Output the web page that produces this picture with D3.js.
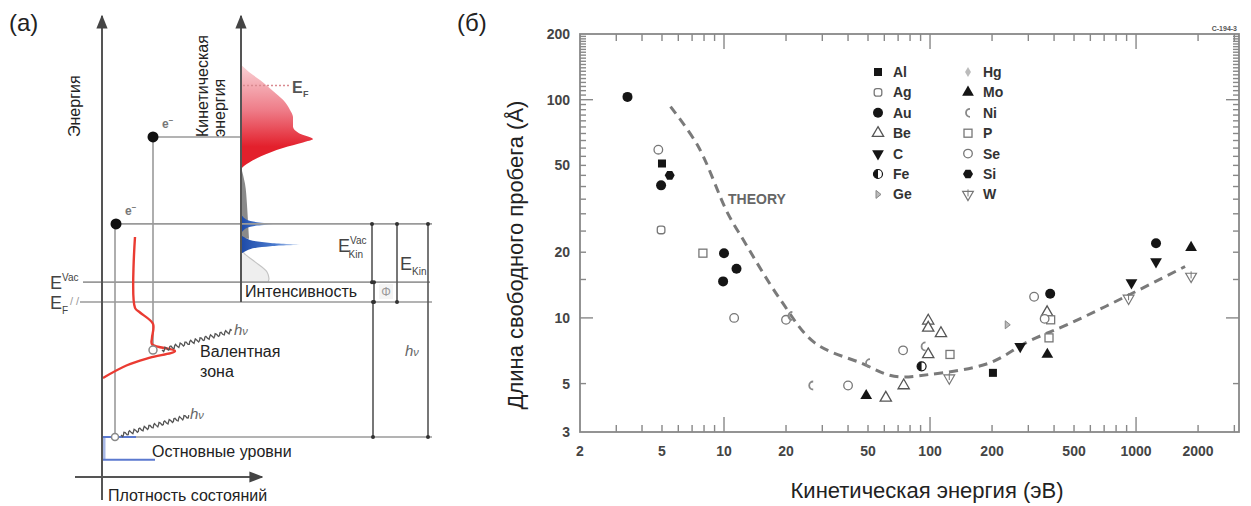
<!DOCTYPE html>
<html>
<head>
<meta charset="utf-8">
<script src="https://cdn.jsdelivr.net/npm/d3@7"></script>
<style>
  body { margin: 0; background: #fff; }
  text { font-family: Arial, "Liberation Sans", sans-serif; }
</style>
</head>
<body>
<svg id="fig" width="1251" height="506"></svg>
<script>
// ---------- panel (б): mean free path vs kinetic energy ----------
const xTickVals = [2, 5, 10, 20, 50, 100, 200, 500, 1000, 2000];
const yTickVals = [3, 5, 10, 20, 50, 100, 200];
const legendLeft = ["Al", "Ag", "Au", "Be", "C", "Fe", "Ge"];
const legendRight = ["Hg", "Mo", "Ni", "P", "Se", "Si", "W"];

// measured points: element, energy (eV), mean free path (Å)
const ptElem = ["Au","Se","Al","Si","Au","Ag","P","Au","Au","Au","Se","Se","Ni","Ni","Se","Mo","Ni",
  "Be","Be","Se","Fe","Be","Be","Be","Ni","Be","P","W","Al","Ge","C","Se","Au","Be","P","Se","P","Mo",
  "C","W","Au","C","Mo","W"];
const ptEnergy = [3.4,4.8,5.0,5.45,4.95,4.95,7.9,10,11.5,9.9,11.2,20,21,26.5,40,49,50,
  61,74.5,74,91,98,98,113,93,98,125,124,202,237,274,320,383,370,385,360,378,371,
  950,920,1250,1250,1850,1850];
const ptPath = [103,59,51,45,40.5,25.3,19.8,19.8,16.8,14.7,10,9.8,10.2,4.9,4.9,4.4,6.2,
  4.3,4.9,7.1,6.0,9.7,9.0,8.5,7.4,6.8,6.8,5.3,5.6,9.3,7.4,12.5,12.9,10.6,9.8,9.9,8.1,6.8,
  14.5,12.3,22,18.1,21,15.5];

// "THEORY" universal curve
const theoryEnergy = [5.5, 7.5, 10.4, 12.4, 18.8, 27.5, 46.5, 67, 98.6, 193, 300, 474, 932, 1730];
const theoryPath = [93, 61, 30.3, 22.8, 12.1, 7.7, 6.2, 5.4, 5.5, 6.2, 7.8, 9.4, 12.8, 17.2];

// ---------- panel (a): photoemission scheme (energies in arbitrary units) ----------
const levelCore = [0, -5.4];
const levelEF = 32, levelVac = 36.7, photonE = 50.5;
const levelValence = 20.6;
// valence-band density of states (energy, intensity)
const vbEnergy = [47.4, 30.6, 29.5, 26.8, 23.5, 22.0, 20.4, 18.8, 17.0, 14.0];
const vbDos    = [33,   33,   38,   51,   50,   50,   73,   48,   25,   1];
// kinetic-energy spectrum, valence part
const specEnergy = [88.2, 86.5, 84.6, 82, 79.9, 77.5, 75.8, 73.5, 72, 70.6, 69.8, 68.5, 66.5, 64.2, 63.5];
const specInt    = [0,    8,    19,   32, 42,   49,   52,   52,   58, 72,   62,   42,   20,   3,    0];
// secondary-electron background
const tailEnergy = [64, 60, 55, 51, 47];
const tailInt    = [0, 4, 6, 7, 8];
const bumpEnergy = [45, 43.6, 41.5, 39.1, 37.5, 36.7];
const bumpInt    = [0, 3, 14, 26, 28, 27];
// core-level peaks
const peakEnergy = [50.5, 45.6];
const peakHeight = [32, 59];

const svg = d3.select("#fig");
const ink = "#222";

// ================= PANEL (a) =================
const ga = svg.append("g");
const yE = d3.scaleLinear().domain([0, 100]).range([437, 15]);
const axE = 102, axK = 241;

const defs = svg.append("defs");
const redGrad = defs.append("linearGradient").attr("id", "redg")
  .attr("gradientUnits", "userSpaceOnUse").attr("x1", 0).attr("y1", yE(88)).attr("x2", 0).attr("y2", yE(64));
redGrad.append("stop").attr("offset", 0).attr("stop-color", "#f9d0d4");
redGrad.append("stop").attr("offset", 0.45).attr("stop-color", "#ee7a86");
redGrad.append("stop").attr("offset", 0.8).attr("stop-color", "#e3202c");
redGrad.append("stop").attr("offset", 1).attr("stop-color", "#e3202c");
const blueGrad = defs.append("linearGradient").attr("id", "blueg")
  .attr("x1", 0).attr("y1", 0).attr("x2", 1).attr("y2", 0);
blueGrad.append("stop").attr("offset", 0).attr("stop-color", "#1d4aa8");
blueGrad.append("stop").attr("offset", 0.6).attr("stop-color", "#4d7dd0");
blueGrad.append("stop").attr("offset", 1).attr("stop-color", "#e4ecf8");
defs.append("marker").attr("id", "arr").attr("viewBox", "0 0 10 10").attr("refX", 9).attr("refY", 5)
  .attr("markerWidth", 7).attr("markerHeight", 7).attr("orient", "auto-start-reverse")
  .append("path").attr("d", "M0,1 L10,5 L0,9 z").attr("fill", "#444");

function hline(y, x1, x2, col, w) {
  return ga.append("line").attr("x1", x1).attr("x2", x2).attr("y1", y).attr("y2", y)
    .attr("stroke", col || "#9a9a9a").attr("stroke-width", w || 1.6);
}
function vline(x, y1, y2, col, w) {
  return ga.append("line").attr("x1", x).attr("x2", x).attr("y1", y1).attr("y2", y2)
    .attr("stroke", col || "#9a9a9a").attr("stroke-width", w || 1.6);
}

// spectrum on the kinetic-energy axis
const specArea = d3.area().curve(d3.curveMonotoneY)
  .y(d => yE(d[0])).x0(axK).x1(d => axK + d[1]);
ga.append("path").datum(d3.zip(bumpEnergy, bumpInt)).attr("d", specArea)
  .attr("fill", "#eeeeee").attr("stroke", "#c4c4c4").attr("stroke-width", 1.2);
ga.append("path").datum(d3.zip(tailEnergy, tailInt)).attr("d", specArea)
  .attr("fill", "#8a8a8a");
peakEnergy.forEach((c, i) => {
  const h = peakHeight[i];
  const pts = [[c + 2.2, 0], [c + 1.1, h * 0.15], [c + 0.4, h * 0.5], [c, h], [c - 0.4, h * 0.5], [c - 1.1, h * 0.15], [c - 2.2, 0]];
  ga.append("path").datum(pts).attr("d", d3.area().curve(d3.curveCatmullRom)
    .y(d => yE(d[0])).x0(axK).x1(d => axK + d[1])).attr("fill", "url(#blueg)");
});
ga.append("path").datum(d3.zip(specEnergy, specInt)).attr("d", specArea).attr("fill", "url(#redg)");
// E_F dotted marker on spectrum
hline(yE(levelEF + photonE + 0.8), axK + 2, axK + 50, "#d98a90", 1.5).attr("stroke-dasharray", "2,2");
ga.append("text").attr("x", 292).attr("y", 93).attr("font-size", 16).attr("font-weight", "bold")
  .attr("fill", "#555").text("E");
ga.append("text").attr("x", 303).attr("y", 97).attr("font-size", 9).attr("font-weight", "bold")
  .attr("fill", "#555").text("F");

// level lines
const yCore = yE(levelCore[0]), yCore2 = yE(levelCore[1]);
const yEF = yE(levelEF), yVac = yE(levelVac), yPh = yE(photonE), yPh2 = yE(levelValence + photonE);
hline(yPh2, 152, axK);
hline(yPh, 115, 432);
hline(yVac, 83, 430);
hline(yEF, 80, 432);
hline(yCore, axE, 432);
vline(115, yPh, yCore);
vline(153, yPh2, yE(levelValence));

// measurement verticals with end dots
function dim(x, y1, y2) {
  vline(x, y1, y2, "#555", 1.6);
  [y1, y2].forEach(y => ga.append("circle").attr("cx", x).attr("cy", y).attr("r", 2).attr("fill", "#333"));
}
dim(372, yPh, yVac);
dim(374, yVac, yEF);
dim(373, yEF, yCore);
dim(397, yPh, yEF);
dim(428, yPh, yCore);

// blue core levels
vline(axE + 2, yCore, yCore2, "#a9b9e6", 3);
hline(yCore, axE, 136, "#5b79cf", 2);
hline(yCore2, axE, 155, "#5b79cf", 2);

// valence DOS (red)
ga.append("path").datum(d3.zip(vbEnergy, vbDos))
  .attr("d", d3.line().curve(d3.curveCatmullRom).y(d => yE(d[0])).x(d => axE + d[1]))
  .attr("fill", "none").attr("stroke", "#ea3b32").attr("stroke-width", 2.4);

// axes with arrows
vline(axE, 500, 16, "#555", 2).attr("marker-end", "url(#arr)");
vline(axK, yEF, 16, "#555", 2).attr("marker-end", "url(#arr)");
ga.append("line").attr("x1", 75).attr("x2", 262).attr("y1", 477).attr("y2", 477)
  .attr("stroke", "#555").attr("stroke-width", 2).attr("marker-end", "url(#arr)");

// photons (wavy)
function wave(x1, y1, x2, y2) {
  const n = 60, len = Math.hypot(x2 - x1, y2 - y1);
  const ux = (x2 - x1) / len, uy = (y2 - y1) / len;
  const pts = d3.range(n + 1).map(k => {
    const t = k / n, a = 2 * Math.sin(t * len / 2.6 * Math.PI);
    return [x1 + ux * t * len - uy * a, y1 + uy * t * len + ux * a];
  });
  ga.append("path").datum(pts).attr("d", d3.line()).attr("fill", "none")
    .attr("stroke", "#555").attr("stroke-width", 1.3);
}
wave(162, 350, 232, 331);
wave(121, 435, 189, 416);
function hnu(x, y) {
  const t = ga.append("text").attr("x", x).attr("y", y).attr("font-size", 15)
    .attr("font-style", "italic").attr("fill", "#666");
  t.append("tspan").text("h");
  t.append("tspan").attr("font-size", 11).text("ν");
}
hnu(234, 335); hnu(190, 419); hnu(405, 356);

// holes and electrons
ga.append("circle").attr("cx", 153).attr("cy", yE(levelValence)).attr("r", 4)
  .attr("fill", "#fff").attr("stroke", "#888").attr("stroke-width", 1.5);
ga.append("circle").attr("cx", 115).attr("cy", yCore).attr("r", 3.5)
  .attr("fill", "#fff").attr("stroke", "#888").attr("stroke-width", 1.5);
[[153, yPh2], [116, yPh]].forEach(p => {
  ga.append("circle").attr("cx", p[0]).attr("cy", p[1]).attr("r", 5.5).attr("fill", "#111");
  const t = ga.append("text").attr("x", p[0] + 9).attr("y", p[1] - 9).attr("font-size", 12)
    .attr("fill", "#777").attr("font-weight", "bold");
  t.append("tspan").text("e");
  t.append("tspan").attr("dy", -5).attr("font-size", 8).text("−");
});

// labels for energies
function eLabel(x, y, sup, sub, size) {
  const t = ga.append("text").attr("x", x).attr("y", y).attr("font-size", size || 16).attr("fill", "#444");
  t.append("tspan").text("E");
  if (sup) t.append("tspan").attr("font-size", 10).attr("dy", -8).text(sup);
  if (sub) t.append("tspan").attr("font-size", 10).attr("dx", sup ? -18 : 0).attr("dy", sup ? 14 : 5).text(sub);
}
eLabel(50, 289, "Vac", null, 18);
eLabel(50, 309, null, "F", 18);
ga.append("text").attr("x", 70).attr("y", 305).attr("font-size", 11).attr("fill", "#999").text("/ /");
eLabel(338, 252, "Vac", "Kin", 18);
eLabel(400, 270, null, "Kin", 18);
ga.append("rect").attr("x", 379).attr("y", 284).attr("width", 14).attr("height", 15).attr("fill", "#f4f4f4");
ga.append("text").attr("x", 386).attr("y", 296).attr("text-anchor", "middle").attr("font-size", 12)
  .attr("fill", "#999").text("Φ");

// text labels
ga.append("rect").attr("x", 243).attr("y", 283).attr("width", 123).attr("height", 18).attr("fill", "#fff");
const lab = (x, y, s, anchor) => ga.append("text").attr("x", x).attr("y", y).attr("font-size", 16)
  .attr("fill", ink).attr("text-anchor", anchor || "start").text(s);
lab(245, 297, "Интенсивность");
lab(200, 357, "Валентная");
lab(200, 377, "зона");
lab(152, 457, "Остновные уровни");
lab(108, 501, "Плотность состояний");
ga.append("text").attr("transform", "translate(80,137) rotate(-90)").attr("font-size", 16)
  .attr("fill", ink).text("Энергия");
ga.append("text").attr("transform", "translate(208,137) rotate(-90)").attr("font-size", 16)
  .attr("fill", ink).text("Кинетическая");
ga.append("text").attr("transform", "translate(225,137) rotate(-90)").attr("font-size", 16)
  .attr("fill", ink).text("энергия");
svg.append("text").attr("x", 9).attr("y", 31).attr("font-size", 24).attr("fill", ink).text("(a)");

// ================= PANEL (б) =================
const gb = svg.append("g");
const x = d3.scaleLog().domain([2, 3160]).range([580, 1239]);
const y = d3.scaleLog().domain([3, 200]).range([432, 34]);
const [xl, xr] = x.range(), [yb, yt] = y.range();

// minor / major ticks
const isDecade = v => Math.abs(Math.log10(v) - Math.round(Math.log10(v))) < 1e-9;
const xAll = x.ticks(40).filter(v => v > 2 && v < 3160);
const yAll = y.ticks(40).filter(v => v > 3 && v < 200);
const tickG = gb.append("g").attr("stroke", "#888").attr("stroke-width", 1.4);
xAll.forEach(v => {
  const L = isDecade(v) ? 15 : 7;
  tickG.append("line").attr("x1", x(v)).attr("x2", x(v)).attr("y1", yb).attr("y2", yb - L);
  tickG.append("line").attr("x1", x(v)).attr("x2", x(v)).attr("y1", yt).attr("y2", yt + L);
});
yAll.forEach(v => {
  const L = isDecade(v) ? 13 : 6;
  tickG.append("line").attr("y1", y(v)).attr("y2", y(v)).attr("x1", xl).attr("x2", xl + L);
  tickG.append("line").attr("y1", y(v)).attr("y2", y(v)).attr("x1", xr).attr("x2", xr - L);
});
gb.append("rect").attr("x", xl).attr("y", yt).attr("width", xr - xl).attr("height", yb - yt)
  .attr("fill", "none").attr("stroke", "#888").attr("stroke-width", 1.8);

// tick labels
gb.selectAll(".xl").data(xTickVals).join("text").attr("class", "xl")
  .attr("x", d => x(d)).attr("y", 456).attr("text-anchor", "middle")
  .attr("font-size", 14).attr("font-weight", "bold").attr("fill", "#444").text(d => d);
gb.selectAll(".yl").data(yTickVals).join("text").attr("class", "yl")
  .attr("x", 570).attr("y", d => y(d) + 5).attr("text-anchor", "end")
  .attr("font-size", 14).attr("font-weight", "bold").attr("fill", "#444").text(d => d);

// axis titles
gb.append("text").attr("x", 927).attr("y", 498).attr("text-anchor", "middle")
  .attr("font-size", 22).attr("fill", ink).text("Кинетическая энергия (эВ)");
gb.append("text").attr("transform", "translate(523,255) rotate(-90)").attr("text-anchor", "middle")
  .attr("font-size", 22).attr("fill", ink).text("Длина свободного пробега (Å)");
svg.append("text").attr("x", 457).attr("y", 31).attr("font-size", 24).attr("fill", ink).text("(б)");
gb.append("text").attr("x", 1237).attr("y", 31).attr("text-anchor", "end").attr("font-size", 7)
  .attr("font-weight", "bold").attr("fill", "#555").text("C-194-3");

// theory curve
gb.append("path").datum(d3.zip(theoryEnergy, theoryPath))
  .attr("d", d3.line().curve(d3.curveCatmullRom).x(d => x(d[0])).y(d => y(d[1])))
  .attr("fill", "none").attr("stroke", "#7a7a7a").attr("stroke-width", 3)
  .attr("stroke-dasharray", "9,6");
gb.append("text").attr("x", 728).attr("y", 204).attr("font-size", 14).attr("font-weight", "bold")
  .attr("fill", "#666").text("THEORY");

// markers
const sym = (type, s) => d3.symbol().type(type).size(s)();
function marker(g, el, cx, cy) {
  const m = g.append("g").attr("transform", `translate(${cx},${cy})`);
  const dark = "#151515", grey = "#777";
  switch (el) {
    case "Al": m.append("rect").attr("x", -4).attr("y", -4).attr("width", 8).attr("height", 8).attr("fill", dark); break;
    case "Ag": m.append("rect").attr("x", -3.8).attr("y", -3.8).attr("width", 7.6).attr("height", 7.6).attr("rx", 2.5)
      .attr("fill", "#fff").attr("stroke", grey).attr("stroke-width", 1.3); break;
    case "Au": m.append("circle").attr("r", 5).attr("fill", dark); break;
    case "Be": m.append("path").attr("d", sym(d3.symbolTriangle, 55)).attr("fill", "#fff")
      .attr("stroke", "#555").attr("stroke-width", 1.3); break;
    case "C": m.append("path").attr("d", sym(d3.symbolTriangle, 60)).attr("transform", "rotate(180)").attr("fill", dark); break;
    case "Fe":
      m.append("circle").attr("r", 4.5).attr("fill", "#fff").attr("stroke", dark).attr("stroke-width", 1.2);
      m.append("path").attr("d", "M0,-4.5 A4.5,4.5 0 0 0 0,4.5 Z").attr("fill", dark); break;
    case "Ge": m.append("path").attr("d", "M-2,-4 L3,0 L-2,4 Z").attr("fill", "#bbb").attr("stroke", "#888"); break;
    case "Hg": m.append("path").attr("d", sym(d3.symbolDiamond, 30)).attr("fill", "#bbb"); break;
    case "Mo": m.append("path").attr("d", sym(d3.symbolTriangle, 60)).attr("fill", dark); break;
    case "Ni": m.append("path").attr("d", "M2,-4 A4,4 0 0 0 2,4").attr("fill", "none")
      .attr("stroke", "#888").attr("stroke-width", 1.8); break;
    case "P": m.append("rect").attr("x", -4).attr("y", -4).attr("width", 8).attr("height", 8)
      .attr("fill", "#fff").attr("stroke", grey).attr("stroke-width", 1.3); break;
    case "Se": m.append("circle").attr("r", 4.3).attr("fill", "#fff").attr("stroke", grey).attr("stroke-width", 1.3); break;
    case "Si": m.append("path").attr("d", d3.line()(d3.range(6).map(k => [5 * Math.cos(k * Math.PI / 3), 5 * Math.sin(k * Math.PI / 3)])) + "Z")
      .attr("fill", dark); break;
    case "W":
      m.append("path").attr("d", sym(d3.symbolTriangle, 50)).attr("transform", "rotate(180)")
        .attr("fill", "#fff").attr("stroke", grey).attr("stroke-width", 1.2);
      m.append("line").attr("x1", 0).attr("x2", 0).attr("y1", -5).attr("y2", 2).attr("stroke", grey); break;
  }
}
const ptG = gb.append("g");
ptElem.forEach((el, i) => marker(ptG, el, x(ptEnergy[i]), y(ptPath[i])));

// legend
const legG = gb.append("g");
[[legendLeft, 878], [legendRight, 968]].forEach(([list, lx]) => {
  list.forEach((el, i) => {
    const ly = 72 + i * 20.4;
    marker(legG, el, lx, ly);
    legG.append("text").attr("x", lx + 15).attr("y", ly + 5).attr("font-size", 14)
      .attr("font-weight", "bold").attr("fill", "#333").text(el);
  });
});
</script>
</body>
</html>
